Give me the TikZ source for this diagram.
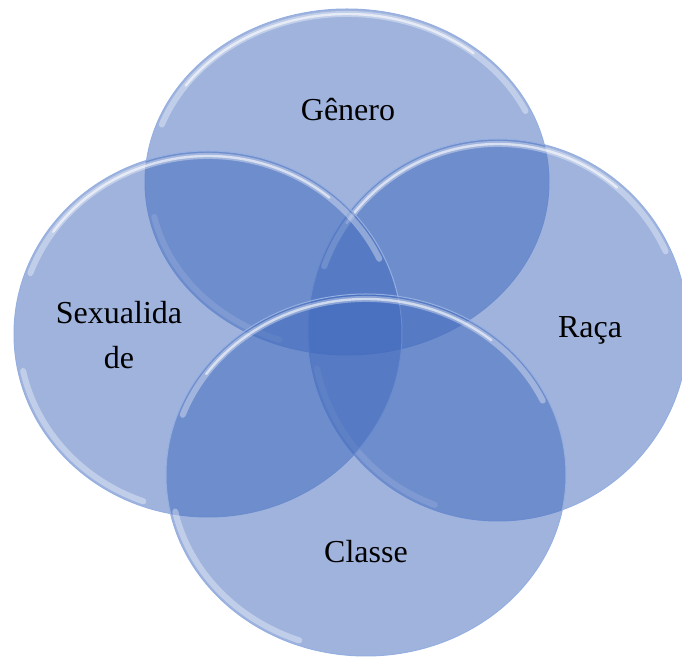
\documentclass[tikz,border=0pt]{standalone}
\usepackage{fontspec}
\setmainfont{Liberation Serif}
\usetikzlibrary{calc}
\definecolor{venn}{RGB}{63,104,188}
\definecolor{rimblue}{RGB}{150,175,225}

\begin{document}
\begin{tikzpicture}[x=0.5pt, y=0.5pt,
      disc/.style={fill=venn, fill opacity=0.5},
      rim/.style={draw=rimblue, line width=0.5pt},
      gloss/.style={white, line width=3pt, opacity=0.35, line cap=round},
      glossb/.style={white, line width=1.2pt, opacity=0.6, line cap=round},
      lab/.style={font=\fontsize{16}{22.5}\selectfont, align=center, text=black}
    ]
    \useasboundingbox (0,0) rectangle (682,659);
    \clip (0,0) rectangle (682,659);

    % Genero (top)
    \coordinate (cg) at (347,477);
    \fill[disc] (cg) ellipse [x radius=202, y radius=173];
    \draw[rim] (cg) ellipse [x radius=202, y radius=173];
    \draw[gloss]  (cg) ++(160:197 and 168) arc[start angle=160, end angle=25, x radius=197, y radius=168];
    \draw[glossb] (cg) ++(145:197 and 168) arc[start angle=145, end angle=50, x radius=197, y radius=168];
    \draw[gloss]  (cg) ++(192:197 and 168) arc[start angle=192, end angle=250, x radius=197, y radius=168];

    % Raca (right)
    \coordinate (cr) at (498,329);
    \fill[disc] (cr) ellipse [x radius=190, y radius=191];
    \draw[rim] (cr) ellipse [x radius=190, y radius=191];
    \draw[gloss]  (cr) ++(160:185 and 186) arc[start angle=160, end angle=25, x radius=185, y radius=186];
    \draw[glossb] (cr) ++(145:185 and 186) arc[start angle=145, end angle=50, x radius=185, y radius=186];
    \draw[gloss]  (cr) ++(192:185 and 186) arc[start angle=192, end angle=250, x radius=185, y radius=186];

    % Sexualidade (left)
    \coordinate (cs) at (208,325);
    \fill[disc] (cs) ellipse [x radius=194, y radius=183];
    \draw[rim] (cs) ellipse [x radius=194, y radius=183];
    \draw[gloss]  (cs) ++(160:189 and 178) arc[start angle=160, end angle=25, x radius=189, y radius=178];
    \draw[glossb] (cs) ++(145:189 and 178) arc[start angle=145, end angle=50, x radius=189, y radius=178];
    \draw[gloss]  (cs) ++(192:189 and 178) arc[start angle=192, end angle=250, x radius=189, y radius=178];

    % Classe (bottom)
    \coordinate (cc) at (366,184);
    \fill[disc] (cc) ellipse [x radius=200, y radius=181];
    \draw[rim] (cc) ellipse [x radius=200, y radius=181];
    \draw[gloss]  (cc) ++(160:195 and 176) arc[start angle=160, end angle=25, x radius=195, y radius=176];
    \draw[glossb] (cc) ++(145:195 and 176) arc[start angle=145, end angle=50, x radius=195, y radius=176];
    \draw[gloss]  (cc) ++(192:195 and 176) arc[start angle=192, end angle=250, x radius=195, y radius=176];

    % labels
    \node[lab] (genero) at (348,549) {Gênero};
    \node[lab] (sexualidade) at (119,324) {Sexualida\\de};
    \node[lab] (raca) at (590,329) {Raça};
    \node[lab] (classe) at (366,107) {Classe};
  \end{tikzpicture}
\end{document}
